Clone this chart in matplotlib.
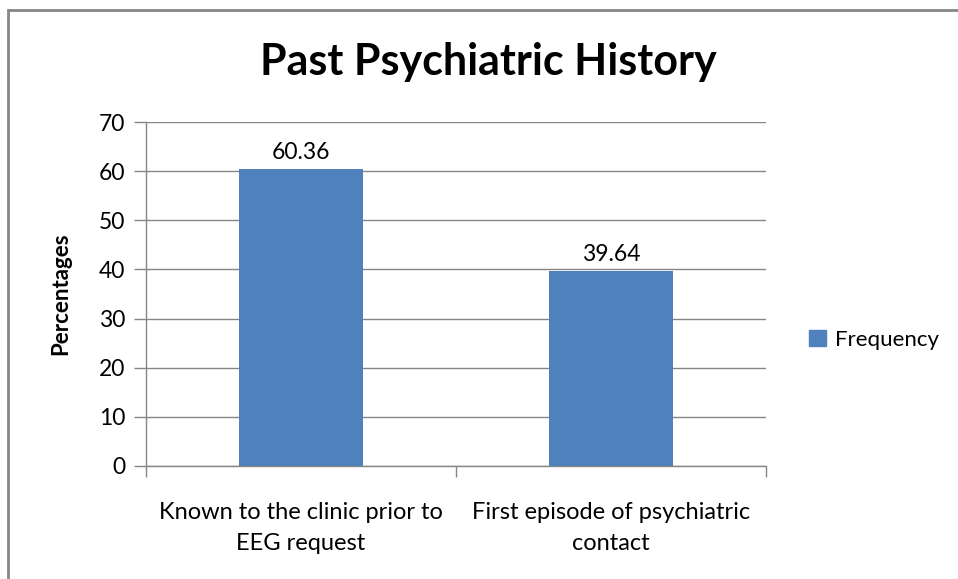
import matplotlib.pyplot as plt
import matplotlib.patches as mpatches
import numpy as np

plt.rcParams['font.family'] = ['Lato', 'DejaVu Sans']

categories = ['Known to the clinic prior to\nEEG request', 'First episode of psychiatric\ncontact']
values = [60.36, 39.64]
labels = ['60.36', '39.64']
series_name = 'Frequency'
bar_color = '#4F81BD'
grid_color = '#868686'

fig = plt.figure(figsize=(9.58, 5.79), dpi=100)
ax = fig.add_axes([146/958, 113/579, 620/958, 344/579])

x = np.arange(len(categories))
bars = ax.bar(x, values, width=0.4, color=bar_color, zorder=3, label=series_name)
for xi, v, t in zip(x, values, labels):
    ax.text(xi, v + 1.3, t, ha='center', va='bottom', fontsize=16.5, color='black')

ax.set_xlim(-0.5, 1.5)
ax.set_ylim(0, 70)
ax.set_yticks(range(0, 71, 10))
ax.yaxis.grid(True, color=grid_color, linewidth=1, zorder=0)
ax.set_xticks([-0.5, 0.5, 1.5])
ax.set_xticklabels([])
ax.set_xticks(x, minor=True)
ax.set_xticklabels(categories, minor=True, fontsize=17, linespacing=1.6)
ax.tick_params(axis='x', which='minor', length=0, pad=26)
ax.tick_params(axis='x', which='major', length=8, color=grid_color, width=1)
ax.tick_params(axis='y', length=9, color=grid_color, width=1, labelsize=16.5, pad=6)
for s in ['top', 'right']:
    ax.spines[s].set_visible(False)
for s in ['left', 'bottom']:
    ax.spines[s].set_color(grid_color)
    ax.spines[s].set_linewidth(1)

ax.set_ylabel('Percentages', fontsize=16, fontweight='bold', labelpad=20)
fig.text(488/958, 1 - 62/579, 'Past Psychiatric History', ha='center', va='center',
         fontsize=31, fontweight='bold')

leg = fig.legend(handles=[mpatches.Patch(color=bar_color, label=series_name)],
                 loc='center left', bbox_to_anchor=(789/958, 1 - 340/579), frameon=False,
                 fontsize=16, handlelength=0.75, handleheight=0.75, handletextpad=0.4)

# outer chart border (only top and left visible in the crop)
fig.patches.append(mpatches.Rectangle((8/958, -0.1), 1.2, 1.1 - 10/579, transform=fig.transFigure,
                                      fill=False, edgecolor=grid_color, linewidth=2))

fig.savefig('out.png', dpi=100)
